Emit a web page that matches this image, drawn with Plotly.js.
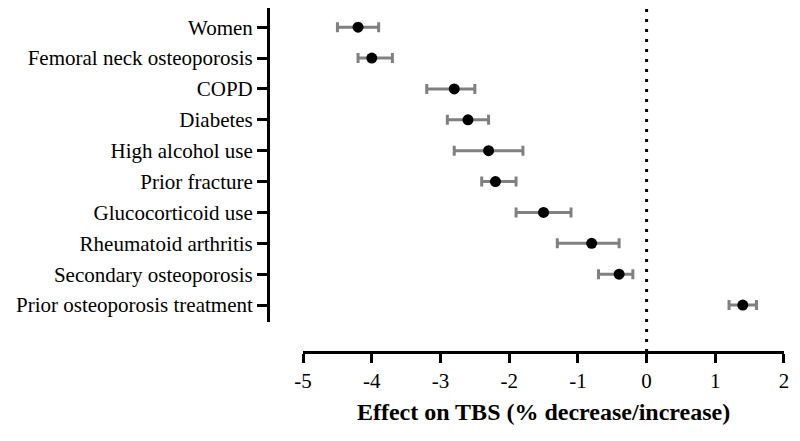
<!DOCTYPE html>
<html>
<head>
<meta charset="utf-8">
<script src="https://cdn.plot.ly/plotly-3.0.1.min.js"></script>
<style>html,body{margin:0;padding:0;background:#fff;}#chart{width:800px;height:441px;}</style>
</head>
<body>
<div id="chart"></div>
<script>
const categories = ["Women","Femoral neck osteoporosis","COPD","Diabetes","High alcohol use","Prior fracture","Glucocorticoid use","Rheumatoid arthritis","Secondary osteoporosis","Prior osteoporosis treatment"];
const effect = [-4.2, -4.0, -2.8, -2.6, -2.3, -2.2, -1.5, -0.8, -0.4, 1.4];
const lower  = [-4.5, -4.2, -3.2, -2.9, -2.8, -2.4, -1.9, -1.3, -0.7, 1.2];
const upper  = [-3.9, -3.7, -2.5, -2.3, -1.8, -1.9, -1.1, -0.4, -0.2, 1.6];
const xTicks = [-5, -4, -3, -2, -1, 0, 1, 2];

const yIdx = categories.map((c, i) => i);
const trace = {
  type: 'scatter', mode: 'markers',
  x: effect, y: yIdx,
  marker: {color: '#000', size: 11},
  error_x: {
    type: 'data', symmetric: false,
    array: upper.map((u, i) => u - effect[i]),
    arrayminus: lower.map((l, i) => effect[i] - l),
    color: '#808080', thickness: 3, width: 5
  },
  hoverinfo: 'skip', showlegend: false
};

const font = {family: 'Liberation Serif, Times New Roman, serif', color: '#000'};
const layout = {
  width: 800, height: 441,
  margin: {l: 268, r: 16, t: 8, b: 89},
  paper_bgcolor: '#fff', plot_bgcolor: '#fff',
  font: Object.assign({size: 21}, font),
  xaxis: {
    domain: [0.068, 1], range: [-5, 2],
    tickvals: xTicks, ticktext: xTicks.map(String),
    showgrid: false, zeroline: false,
    showline: true, linecolor: '#000', linewidth: 3,
    ticks: 'outside', ticklen: 9, tickwidth: 3, tickcolor: '#000',
    tickfont: Object.assign({size: 21}, font),
    anchor: 'free', position: 0,
    title: {text: '<b>Effect on TBS (% decrease/increase)</b>', font: Object.assign({size: 24}, font), standoff: 10}
  },
  yaxis: {
    domain: [0.087, 1], range: [9.55, -0.62],
    tickvals: yIdx, ticktext: categories,
    showgrid: false, zeroline: false,
    showline: true, linecolor: '#000', linewidth: 3,
    ticks: 'outside', ticklen: 10, tickwidth: 3, tickcolor: '#000',
    tickfont: Object.assign({size: 21}, font),
    anchor: 'free', position: 0
  },
  shapes: [{
    type: 'line', xref: 'x', yref: 'paper', x0: 0, x1: 0, y0: 0, y1: 1,
    line: {color: '#000', width: 3, dash: '3px,7px'}, layer: 'below'
  }]
};
Plotly.newPlot('chart', [trace], layout, {staticPlot: true});
</script>
</body>
</html>
